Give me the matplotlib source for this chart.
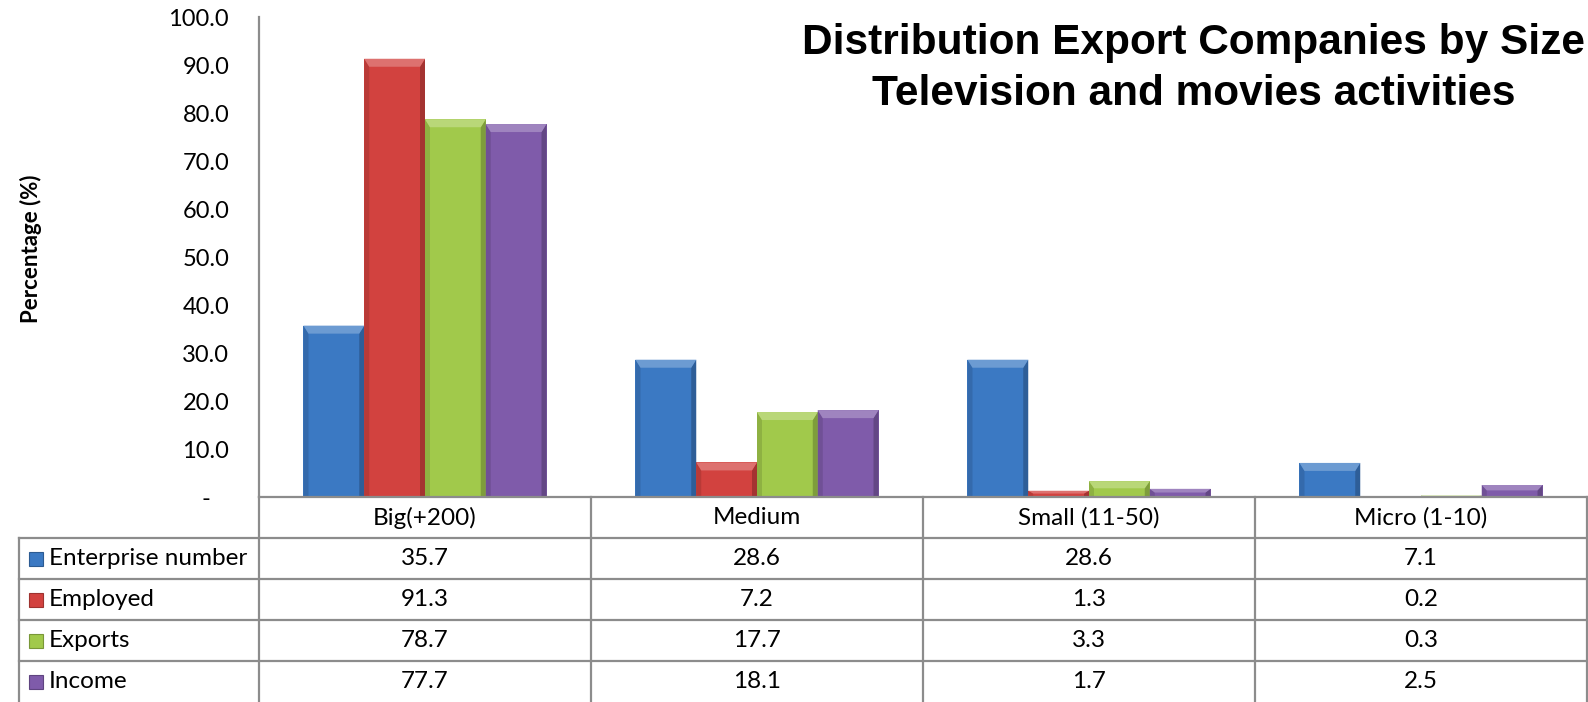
import matplotlib
matplotlib.use("Agg")
import matplotlib.pyplot as plt
import numpy as np
from matplotlib.patches import Polygon, Rectangle
from matplotlib.colors import to_rgb

# ── datos ────────────────────────────────────────────────────────────────
categories = ["Big(+200)", "Medium", "Small (11-50)", "Micro (1-10)"]
series = ["Enterprise number", "Employed", "Exports", "Income"]
enterprise = [35.7, 28.6, 28.6, 7.1]
employed = [91.3, 7.2, 1.3, 0.2]
exports = [78.7, 17.7, 3.3, 0.3]
income = [77.7, 18.1, 1.7, 2.5]
values = [enterprise, employed, exports, income]
yticks = [0, 10, 20, 30, 40, 50, 60, 70, 80, 90, 100]

colors = ["#3B79C3", "#D2423F", "#A1C94B", "#7F5BAA"]
GRID = "#8C8C8C"
FONT = ["Lato", "DejaVu Sans"]

W, H = 1588, 702
fig = plt.figure(figsize=(W / 100, H / 100), dpi=100)

# layout en píxeles
x_spine, x_right, x_tab = 259, 1587, 19
y_top, y_base = 17, 497
row_h = 41

ax = fig.add_axes([x_spine / W, (H - y_base) / H, (x_right - x_spine) / W, (y_base - y_top) / H])
ax.set_xlim(-0.5, 3.5)
ax.set_ylim(0, 100)
px_x = 4.0 / (x_right - x_spine)      # unidades de datos por píxel
px_y = 100.0 / (y_base - y_top)


def mix(c, other, t):
    c, o = np.array(to_rgb(c)), np.array(to_rgb(other))
    return tuple(c * (1 - t) + o * t)


def bevel(a, x0, w, h, color, sx, sy):
    """Barra con faceta superior clara y laterales oscuros (efecto bisel)."""
    if h <= 0:
        return
    b = min(8 * sy, h * 0.45)
    s = min(5 * sx, w * 0.2)
    a.add_patch(Polygon([(x0, h), (x0 + s, h - b), (x0 + s, 0), (x0, 0)],
                        closed=True, fc=mix(color, "black", 0.12), ec="none", zorder=3))
    a.add_patch(Polygon([(x0 + w, h), (x0 + w - s, h - b), (x0 + w - s, 0), (x0 + w, 0)],
                        closed=True, fc=mix(color, "black", 0.22), ec="none", zorder=3))
    a.add_patch(Polygon([(x0, h), (x0 + w, h), (x0 + w - s, h - b), (x0 + s, h - b)],
                        closed=True, fc=mix(color, "white", 0.25), ec="none", zorder=3))


n = len(series)
bw = 0.183
x = np.arange(len(categories))
for i, (vals, col) in enumerate(zip(values, colors)):
    xs = x + (i - (n - 1) / 2) * bw
    ax.bar(xs, vals, width=bw, color=col, edgecolor="none", zorder=2)
    for xc, v in zip(xs, vals):
        bevel(ax, xc - bw / 2, bw, v, col, px_x, px_y)

for sp in ("top", "right", "bottom"):
    ax.spines[sp].set_visible(False)
ax.spines["left"].set_color(GRID)
ax.spines["left"].set_linewidth(1.6)
ax.set_xticks([])
ax.set_yticks(yticks)
ax.set_yticklabels(["-   " if t == 0 else f"{t:.1f}" for t in yticks], family=FONT, fontsize=17)
ax.tick_params(axis="y", length=0, pad=21.5)
ax.set_ylabel("Percentage (%)", family=FONT, fontsize=16, fontweight="bold")
ax.yaxis.set_label_coords(-(x_spine - 42) / (x_right - x_spine), (y_base - 249) / (y_base - y_top))

# ── tabla de datos ───────────────────────────────────────────────────────
tab = fig.add_axes([x_tab / W, (H - y_base - 5 * row_h) / H, (x_right - x_tab) / W, 5 * row_h / H])
xmin = -0.5 - (x_spine - x_tab) / (x_right - x_spine) * 4.0
tab.set_xlim(xmin, 3.5)
tab.set_ylim(5, 0)
tab.axis("off")
lw = 1.6
tab.plot([-0.5, 3.5], [0, 0], color=GRID, lw=lw, clip_on=False)
for r in range(1, 5):
    tab.plot([xmin, 3.5], [r, r], color=GRID, lw=lw, clip_on=False)
tab.plot([xmin, xmin], [1, 5], color=GRID, lw=lw, clip_on=False)
for cx in np.arange(-0.5, 4.0, 1.0):
    tab.plot([cx, cx], [0, 5], color=GRID, lw=lw, clip_on=False)

TS = 17.5
for j, cat in enumerate(categories):
    tab.text(j, 0.5, cat, ha="center", va="center", family=FONT, fontsize=TS)

tx_x = (3.5 - xmin) / (x_right - x_tab)
for i, (name, vals, col) in enumerate(zip(series, values, colors)):
    r = i + 1
    sq = 14 * tx_x
    sqh = 14 / row_h
    tab.add_patch(Rectangle((xmin + 10 * tx_x, r + 0.5 - sqh / 2), sq, sqh,
                            fc=col, ec=mix(col, "black", 0.25), lw=0.8, clip_on=False))
    tab.text(xmin + 30 * tx_x, r + 0.5, name, ha="left", va="center", family=FONT, fontsize=TS)
    for j, v in enumerate(vals):
        tab.text(j, r + 0.5, f"{v:.1f}", ha="center", va="center", family=FONT, fontsize=TS)

# ── título ───────────────────────────────────────────────────────────────
TFONT = ["Liberation Sans", "DejaVu Sans"]
fig.text(1194 / W, 1 - 54 / H, "Distribution Export Companies by Size", ha="center", va="baseline",
         family=TFONT, fontsize=30.5, fontweight="bold")
fig.text(1194 / W, 1 - 105 / H, "Television and movies activities", ha="center", va="baseline",
         family=TFONT, fontsize=30.5, fontweight="bold")

fig.savefig("out.png", dpi=100, facecolor="white")
